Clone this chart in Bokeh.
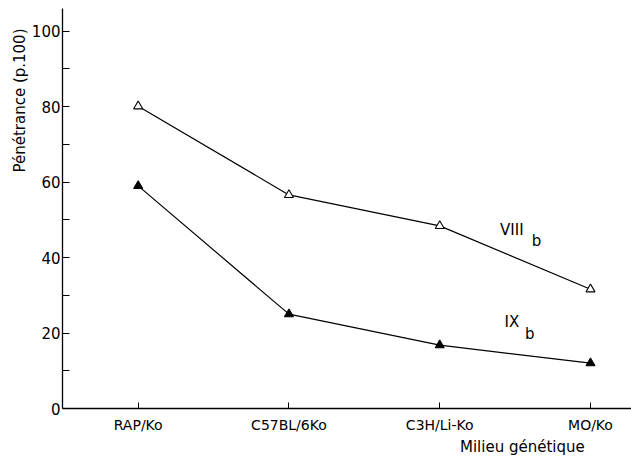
import math
from bokeh.plotting import figure
from bokeh.models import Range1d, FixedTicker, Label, ColumnDataSource, Title
from bokeh.embed import file_html
from bokeh.resources import INLINE

categories = ["RAP/Ko", "C57BL/6Ko", "C3H/Li-Ko", "MO/Ko"]
viii_b = [80.1, 56.6, 48.4, 31.6]
ix_b = [59.0, 25.0, 16.8, 12.0]
y_ticks = [0, 20, 40, 60, 80, 100]
y_minor = [10, 30, 50, 70, 90]

FONT = "DejaVu Sans"
xs = list(range(len(categories)))

p = figure(width=631, height=456, output_backend="svg", toolbar_location=None,
           x_range=Range1d(-0.502, 3.272), y_range=Range1d(0, 106),
           min_border_left=62, min_border_bottom=48, min_border_top=8, min_border_right=0)
p.outline_line_color = None
p.grid.visible = False
p.background_fill_color = "white"

src1 = ColumnDataSource(dict(x=xs, y=viii_b))
src2 = ColumnDataSource(dict(x=xs, y=ix_b))
p.line("x", "y", source=src1, line_color="black", line_width=1.2)
p.line("x", "y", source=src2, line_color="black", line_width=1.2)
p.scatter("x", "y", source=src1, marker="triangle", size=9, fill_color="white",
          line_color="black", line_width=1.1)
p.scatter("x", "y", source=src2, marker="triangle", size=9, fill_color="black",
          line_color="black", line_width=1.1)

# x axis
xa = p.xaxis[0]
xa.ticker = FixedTicker(ticks=xs)
xa.major_label_overrides = {i: c for i, c in enumerate(categories)}
xa.major_tick_in = 6
xa.major_tick_out = 0
xa.minor_tick_line_color = None
xa.major_label_standoff = 8
xa.major_label_text_font = FONT
xa.major_label_text_font_size = "14px"
xa.major_label_text_color = "black"
xa.axis_line_color = "black"
xa.axis_line_width = 1.3

# y axis
ya = p.yaxis[0]
ya.ticker = FixedTicker(ticks=y_ticks, minor_ticks=y_minor)
ya.major_tick_in = 7
ya.major_tick_out = 0
ya.minor_tick_in = 7
ya.minor_tick_out = 0
ya.major_label_standoff = 2
ya.major_label_text_font = FONT
ya.major_label_text_font_size = "15px"
ya.major_label_text_color = "black"
ya.axis_line_color = "black"
ya.axis_line_width = 1.3

# axis titles as side titles
p.add_layout(Title(text="Pénétrance (p.100)", align="right", offset=20,
                   text_font=FONT, text_font_size="15px", text_font_style="normal",
                   text_color="black", standoff=0), "left")
p.add_layout(Title(text="Milieu  génétique", align="right", offset=42,
                   text_font=FONT, text_font_size="15px", text_font_style="normal",
                   text_color="black", standoff=0), "below")

# series labels
p.add_layout(Label(x=2.40, y=47.3, text="VIII", text_align="left", text_baseline="middle",
                   text_font=FONT, text_font_size="15px", text_color="black"))
p.add_layout(Label(x=2.61, y=44.3, text="b", text_align="left", text_baseline="middle",
                   text_font=FONT, text_font_size="15px", text_color="black"))
p.add_layout(Label(x=2.43, y=22.9, text="IX", text_align="left", text_baseline="middle",
                   text_font=FONT, text_font_size="15px", text_color="black"))
p.add_layout(Label(x=2.565, y=19.8, text="b", text_align="left", text_baseline="middle",
                   text_font=FONT, text_font_size="15px", text_color="black"))

open("out.html", "w").write(file_html(p, INLINE))
